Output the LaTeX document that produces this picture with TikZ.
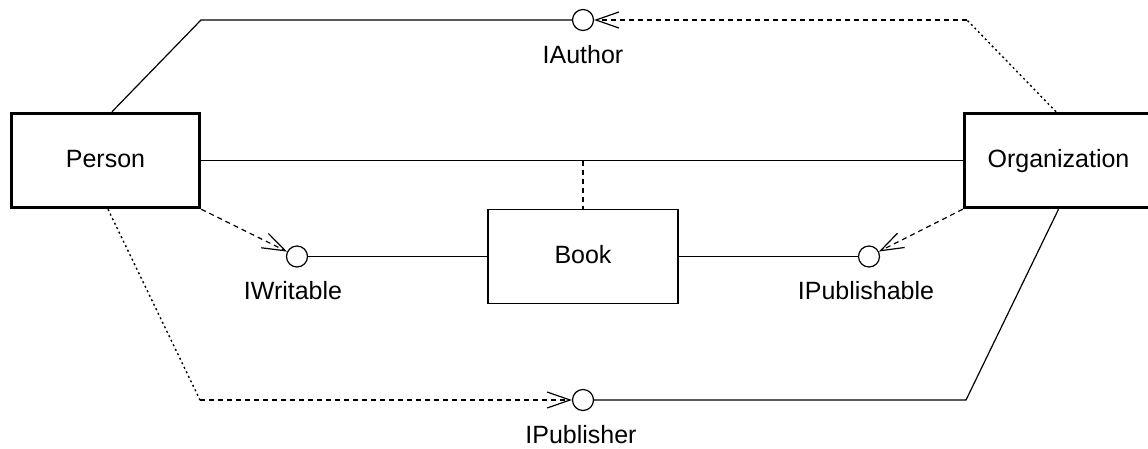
\documentclass[tikz,border=0pt]{standalone}
\usepackage{fontspec}
\setmainfont{Liberation Sans}
\usetikzlibrary{arrows.meta}
\begin{document}
\begin{tikzpicture}[x=1pt,y=-1pt,
  every node/.style={font=\fontsize{25}{30}\selectfont},
  cls/.style={draw, line width=3.5pt, minimum width=188pt, minimum height=94pt, text height=18pt, text depth=4pt, inner sep=0pt},
  bookbox/.style={draw, line width=1.4pt, minimum width=190pt, minimum height=94pt, text height=18pt, text depth=4pt, inner sep=0pt},
  lollipop/.style={draw, circle, line width=1.2pt, minimum size=21pt, inner sep=0pt},
  lbl/.style={anchor=base, inner sep=0pt},
  conn/.style={line width=1.2pt},
  dep/.style={line width=1.2pt, dash pattern=on 5pt off 4pt},
  dots/.style={line width=1.4pt, dash pattern=on 2pt off 3pt},
  tip/.style={-{Straight Barb[length=23pt,width=16pt]}}
]
\useasboundingbox (0,0) rectangle (1148,448);

\node[cls] (person) at (105.5,160.5) {Person};
\node[cls] (org) at (1058.5,160.5) {Organization};
\node[bookbox] (book) at (583,256.5) {Book};
\node[lollipop] (iauthor) at (583,20) {};
\node[lollipop] (iwritable) at (297,256.5) {};
\node[lollipop] (ipublishable) at (869,256.5) {};
\node[lollipop] (ipublisher) at (583,400) {};
\node[lbl] (lauthor) at (583,63) {IAuthor};
\node[lbl] (lwritable) at (293,299) {IWritable};
\node[lbl] (lpublishable) at (866,299) {IPublishable};
\node[lbl] (lpublisher) at (581,443) {IPublisher};

\coordinate (a1) at (201,20);
\coordinate (a2) at (967,20);
\coordinate (p1) at (200,400);
\coordinate (p2) at (966,400);

\draw[conn] ([xshift=6.5pt]person.north) -- (a1) -- (iauthor.west);
\draw[dots] ([xshift=-2.5pt]org.north) -- (a2);
\draw[dep,tip] (a2) -- (iauthor.east);
\draw[conn] (person.east) -- (org.west);
\coordinate (mid) at (book.north |- person.east);
\draw[dep] (mid) -- (book.north);
\draw[dep,tip] (person.south east) -- (iwritable);
\draw[conn] (iwritable.east) -- (book.west);
\draw[dep,tip] (org.south west) -- (ipublishable);
\draw[conn] (book.east) -- (ipublishable.west);
\draw[dots] ([xshift=2.5pt]person.south) -- (p1);
\draw[dep,tip] (p1) -- (ipublisher.west);
\draw[conn] (ipublisher.east) -- (p2) -- (org.south);
\end{tikzpicture}
\end{document}
